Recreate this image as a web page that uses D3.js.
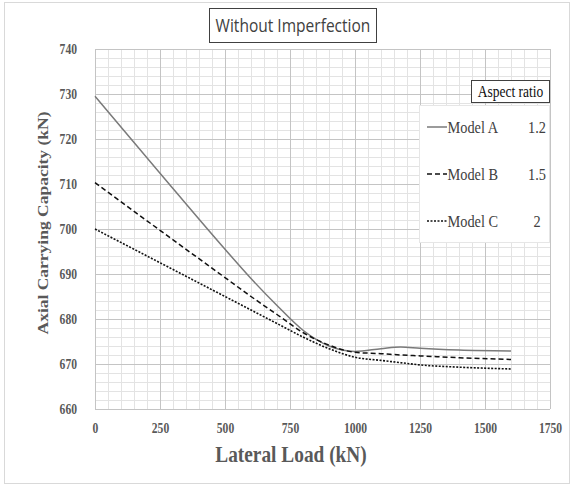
<!DOCTYPE html>
<html>
<head>
<meta charset="utf-8">
<script src="https://cdn.jsdelivr.net/npm/d3@7"></script>
<style>
  html, body { margin: 0; padding: 0; background: #fff; }
  svg { display: block; }
</style>
</head>
<body>
<svg id="chart" width="574" height="487"></svg>
<script>
// Lateral load (kN) sample points
const lateralLoad = [0, 250, 500, 600, 700, 800, 900, 1000, 1100, 1175, 1250, 1400, 1600];

// Axial carrying capacity (kN) per model
const modelA = [729.5, 712.4, 695.5, 689.0, 683.0, 677.5, 674.0, 672.8, 673.4, 673.8, 673.5, 673.1, 672.9];
const modelB = [710.3, 699.7, 689.2, 685.0, 681.0, 677.0, 674.2, 672.6, 672.3, 672.0, 671.8, 671.4, 671.0];
const modelC = [700.0, 692.5, 685.0, 682.0, 679.0, 676.0, 673.4, 671.5, 670.8, 670.3, 669.8, 669.3, 668.9];

const seriesNames = ["Model A", "Model B", "Model C"];
const aspectRatios = ["1.2", "1.5", "2"];

const xTicks = [0, 250, 500, 750, 1000, 1250, 1500, 1750];
const yTicks = [660, 670, 680, 690, 700, 710, 720, 730, 740];

const svg = d3.select("#chart");

// narrow serif look: squeeze text horizontally around its anchor point
const SQ = 0.82;
function squeezed(sel, xPos, yPos, size, opts = {}) {
  const t = sel.append("text")
    .attr("transform", `translate(${xPos},${yPos}) scale(${opts.sx || SQ},1)`)
    .attr("text-anchor", opts.anchor || "start")
    .attr("font-family", opts.family || "'Liberation Serif', 'Times New Roman', serif")
    .attr("font-weight", opts.weight || "normal")
    .attr("font-size", size)
    .attr("fill", opts.fill || "#404040");
  return t;
}

// outer frame
svg.append("rect")
  .attr("x", 4.5).attr("y", 2.5).attr("width", 565).attr("height", 481)
  .attr("fill", "#fff").attr("stroke", "#d9d9d9").attr("stroke-width", 1);

const plot = { left: 95, right: 550, top: 49, bottom: 409 };

const x = d3.scaleLinear().domain([0, 1750]).range([plot.left, plot.right]);
const y = d3.scaleLinear().domain([660, 740]).range([plot.bottom, plot.top]);

const g = svg.append("g");

// minor grid
const xMinor = d3.range(0, 1751, 50);
const yMinor = d3.range(660, 741, 2);
g.append("g").selectAll("line").data(xMinor).join("line")
  .attr("x1", d => Math.round(x(d)) + 0.5).attr("x2", d => Math.round(x(d)) + 0.5)
  .attr("y1", plot.top).attr("y2", plot.bottom)
  .attr("stroke", "#e3e3e3").attr("stroke-width", 1);
g.append("g").selectAll("line").data(yMinor).join("line")
  .attr("y1", d => Math.round(y(d)) + 0.5).attr("y2", d => Math.round(y(d)) + 0.5)
  .attr("x1", plot.left).attr("x2", plot.right)
  .attr("stroke", "#e3e3e3").attr("stroke-width", 1);

// major grid
g.append("g").selectAll("line").data(xTicks).join("line")
  .attr("x1", d => Math.round(x(d)) + 0.5).attr("x2", d => Math.round(x(d)) + 0.5)
  .attr("y1", plot.top).attr("y2", plot.bottom)
  .attr("stroke", "#c4c4c4").attr("stroke-width", 1);
g.append("g").selectAll("line").data(yTicks).join("line")
  .attr("y1", d => Math.round(y(d)) + 0.5).attr("y2", d => Math.round(y(d)) + 0.5)
  .attr("x1", plot.left).attr("x2", plot.right)
  .attr("stroke", "#c4c4c4").attr("stroke-width", 1);

// axes (labels only, gridlines act as ticks)
const tickFont = "'Liberation Serif', 'Times New Roman', serif";
const xAxis = svg.append("g")
  .attr("transform", `translate(0,${plot.bottom})`)
  .call(d3.axisBottom(x).tickValues(xTicks).tickFormat(d3.format("d")).tickSize(0).tickPadding(14));
const yAxis = svg.append("g")
  .attr("transform", `translate(${plot.left},0)`)
  .call(d3.axisLeft(y).tickValues(yTicks).tickFormat(d3.format("d")).tickSize(0).tickPadding(0));
[xAxis, yAxis].forEach(a => {
  a.select(".domain").remove();
  a.selectAll("text")
    .attr("font-family", tickFont).attr("font-weight", "bold")
    .attr("font-size", 14.5).attr("fill", "#595959");
});
xAxis.selectAll("text").attr("transform", "scale(0.8,1)");
yAxis.selectAll("text").attr("x", 0).attr("transform", "translate(-18,0) scale(0.8,1)");

// data lines
const line = d3.line()
  .x((d, i) => x(lateralLoad[i]))
  .y(d => y(d))
  .curve(d3.curveMonotoneX);

const styles = [
  { data: modelA, stroke: "#7a7a7a", dash: null, width: 1.5 },
  { data: modelB, stroke: "#111", dash: "5,3", width: 1.5 },
  { data: modelC, stroke: "#111", dash: "2,1.5", width: 1.6 }
];
styles.forEach(s => {
  svg.append("path").datum(s.data)
    .attr("d", line)
    .attr("fill", "none")
    .attr("stroke", s.stroke)
    .attr("stroke-width", s.width)
    .attr("stroke-dasharray", s.dash);
});

// title
svg.append("rect")
  .attr("x", 209.5).attr("y", 8.5).attr("width", 167).attr("height", 34)
  .attr("fill", "#fff").attr("stroke", "#404040").attr("stroke-width", 1);
squeezed(svg, 293, 32, 18.5, { anchor: "middle", family: "'Open Sans', 'Noto Sans', sans-serif", sx: 0.84 })
  .text("Without Imperfection");

// axis titles
squeezed(svg, 291, 462, 22.5, { anchor: "middle", weight: "bold", fill: "#595959", sx: 0.86 })
  .text("Lateral  Load (kN)");
svg.append("text")
  .attr("transform", `translate(48,${223}) rotate(-90) scale(1,0.86)`)
  .attr("text-anchor", "middle")
  .attr("font-family", tickFont).attr("font-weight", "bold")
  .attr("font-size", 17.5).attr("fill", "#595959")
  .text("Axial Carrying Capacity (kN)");

// legend
svg.append("rect")
  .attr("x", 471.5).attr("y", 80.5).attr("width", 78).attr("height", 22)
  .attr("fill", "#fff").attr("stroke", "#404040").attr("stroke-width", 1);
squeezed(svg, 510.5, 97, 16.5, { anchor: "middle", fill: "#111" })
  .text("Aspect ratio");

svg.append("rect")
  .attr("x", 419.5).attr("y", 105.5).attr("width", 130).attr("height", 137)
  .attr("fill", "#fff").attr("stroke", "#e6e6e6").attr("stroke-width", 1);

const legendY = d3.scalePoint().domain(seriesNames).range([127, 221]);
seriesNames.forEach((name, i) => {
  const ly = legendY(name);
  const s = styles[i];
  svg.append("line")
    .attr("x1", 427).attr("x2", 447).attr("y1", ly).attr("y2", ly)
    .attr("stroke", s.stroke).attr("stroke-width", s.width)
    .attr("stroke-dasharray", s.dash);
  squeezed(svg, 447.5, ly + 6, 17.5).text(name);
  squeezed(svg, 537, ly + 6, 17.5, { anchor: "middle" }).text(aspectRatios[i]);
});
</script>
</body>
</html>
